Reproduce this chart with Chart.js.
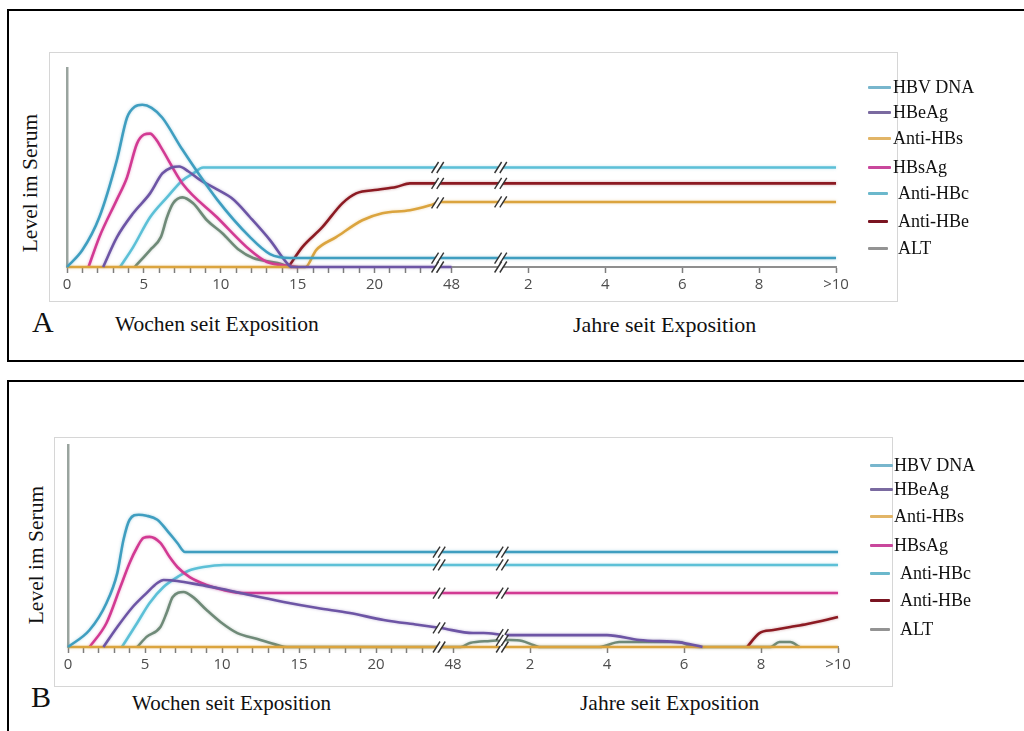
<!DOCTYPE html>
<html>
<head>
<meta charset="utf-8">
<script src="https://cdn.jsdelivr.net/npm/chart.js@4.4.0/dist/chart.umd.min.js"></script>
<style>
  body { margin: 0; background: #fff; width: 1024px; height: 731px; overflow: hidden; position: relative; font-family: "Liberation Serif", "Times New Roman", serif; }
  .frame { position: absolute; border: 2px solid #000; box-sizing: border-box; }
  .inner { position: absolute; border: 1px solid #d6d6d6; box-sizing: border-box; }
  canvas { position: absolute; }
  .txt { position: absolute; white-space: nowrap; color: #111; line-height: 1; }
  .ytitle { position: absolute; white-space: nowrap; color: #111; line-height: 1; font-size: 21.5px; transform: translate(-50%, -50%) rotate(-90deg); }
  .mark { position: absolute; height: 3px; border-radius: 1px; }
</style>
</head>
<body>
<div class="frame" style="left:7px;top:9px;width:1030px;height:353px"></div>
<div class="frame" style="left:7px;top:380px;width:1030px;height:400px"></div>
<div class="inner" style="left:49px;top:52px;width:849px;height:250px"></div>
<div class="inner" style="left:54px;top:437px;width:839px;height:250px"></div>
<canvas id="chartA" width="848" height="249" style="left:49px;top:52px"></canvas>
<canvas id="chartB" width="838" height="249" style="left:54px;top:437px"></canvas>
<div id="labels"></div>

<script>
// x = position on the broken axis: 0..25 are weeks, 25..50 stand for 48 wk, 2, 4, 6, 8, >10 years
const TICK_LABELS = ['0', '5', '10', '15', '20', '48', '2', '4', '6', '8', '>10'];
const BREAK_POS = [24.1, 28.2];
const SERIES = ['HBV DNA', 'HBeAg', 'Anti-HBs', 'HBsAg', 'Anti-HBc', 'Anti-HBe', 'ALT'];

// panel A - acute, resolved infection
const A_HBV_DNA = [[0,0],[1,8.5],[2.1,25],[3.25,54],[3.9,75],[4.4,80.5],[4.9,81.5],[5.5,80],[6.2,75],[7.5,59],[9.75,34],[11.9,15],[13.2,6.5],[14.5,4.5],[50,4.5]];
const A_HBEAG = [[2.35,0],[3.25,15],[4.3,27],[5.4,37],[6.2,47],[6.8,50],[7.3,50.5],[7.9,48],[8.6,44],[9.75,39],[10.8,34],[11.9,25],[13.2,13.5],[14.3,2],[14.6,0],[25,0]];
const A_ANTI_HBS = [[0,0],[15.5,0],[16.2,8.5],[17.5,15],[19.2,23.5],[20.5,27],[22.3,28.5],[23.6,31],[24.3,32.7],[50,32.7]];
const A_HBSAG = [[1.4,0],[2.1,15],[3.25,34],[3.9,45],[4.55,62],[5,66.5],[5.4,67],[5.8,64],[6.2,59],[7.5,42],[9.75,25],[11.9,8.5],[13,2.5],[14.5,0.5],[15,0]];
const A_ANTI_HBC = [[3.45,0],[4.3,10],[5.4,25],[6.5,35],[7.5,43.5],[8.2,47],[8.85,50],[50,50]];
const A_ANTI_HBE = [[14.4,0],[15.3,10],[16.6,20],[17.9,32],[18.8,37],[20.2,38.8],[21.4,40.2],[22.3,42],[50,42]];
const A_ALT = [[4.4,0],[5.4,8.5],[6.1,15],[6.5,25],[6.9,32],[7.5,35],[8.2,32],[9.1,23.5],[10.1,17],[11.2,8.5],[12.1,4.5],[13.7,2],[14.5,0]];

// panel B - chronic infection
const B_HBV_DNA = [[0,0],[1.4,8.4],[2.5,21.8],[3.2,36.6],[3.6,53],[4,63],[4.6,65.5],[5.1,65],[5.8,63],[6.4,58],[7.1,51.5],[7.6,47],[50,47]];
const B_HBEAG = [[2.3,0],[3.2,9.9],[4.2,19.8],[5.1,26.7],[5.8,31.7],[6.2,33.2],[7.1,32.7],[8.6,30.7],[9.7,29.2],[11.8,25.7],[14,22.3],[16.2,19.3],[18.3,16.8],[20.5,13.4],[22.7,11],[24.2,9.4],[26.3,6.9],[27,6.9],[28.5,5.9],[35,5.9],[37.1,3.5],[40,2],[41.2,0]];
const B_ANTI_HBS = [[0,0],[50,0]];
const B_HBSAG = [[1.4,0],[2.5,11.9],[3.4,29.7],[4,41.6],[4.5,49.5],[4.9,54],[5.3,54.5],[6,51.5],[6.6,44.5],[7.1,39.6],[7.9,34.6],[9,30.7],[10.1,28.2],[11.4,26.7],[50,26.7]];
const B_ANTI_HBC = [[3.5,0],[4.5,12],[5.3,21.8],[6.2,29.7],[7.1,34.6],[7.9,38],[8.8,39.6],[10.1,40.6],[50,40.6]];
const B_ANTI_HBE = [[44.1,0],[44.9,6.9],[45.8,8.4],[46.9,9.9],[48,11.4],[49,13],[50,14.9]];
const B_ALT = [[4.5,0],[5.1,5],[6,9.9],[6.4,16.8],[6.8,24.8],[7.5,27.2],[8.1,24.8],[9,18.3],[9.9,12.4],[11,6.9],[12.3,4],[13.6,1],[14.2,0],[25.5,0],[26.1,2],[27.4,3],[28.7,3.5],[29.5,3],[30.2,1],[30.6,0],[34.5,0],[35.8,2.5],[37.1,2.5],[39.7,2.5],[40.4,0.5],[41,0],[45.6,0],[46.2,2.5],[46.9,2.5],[47.5,0]];

const COLORS = {
  'HBV DNA': '#3f9ec0',
  'HBeAg': '#6d55a5',
  'Anti-HBs': '#dba43e',
  'HBsAg': '#d23a93',
  'Anti-HBc': '#5cc0d7',
  'Anti-HBe': '#8c1a22',
  'ALT': '#6f8a78'
};
const LEGEND_COLORS = {
  'HBV DNA': '#78b6cd', 'HBeAg': '#7a6aa0', 'Anti-HBs': '#e2b567', 'HBsAg': '#c9479c',
  'Anti-HBc': '#6bb8cc', 'Anti-HBe': '#7a1421', 'ALT': '#939393'
};

const toPts = arr => arr.map(([x, y]) => ({ x: x, y: y }));

// "//" marks where the time axis is broken
const breakPlugin = {
  id: 'axisBreaks',
  afterDatasetsDraw(chart) {
    const ctx = chart.ctx;
    const x = chart.scales.x, y = chart.scales.y;
    BREAK_POS.forEach(bx => {
      const px = x.getPixelForValue(bx);
      const ys = [y.getPixelForValue(0)];
      chart.data.datasets.forEach(ds => {
        const pts = ds.data;
        for (let i = 1; i < pts.length; i++) {
          const a = pts[i - 1], b = pts[i];
          if (a.x <= bx && bx <= b.x) {
            const v = a.y + (b.y - a.y) * (bx - a.x) / (b.x - a.x);
            ys.push(y.getPixelForValue(v));
            break;
          }
        }
      });
      const done = [];
      ys.forEach(py => {
        if (done.some(d => Math.abs(d - py) < 4)) return;
        done.push(py);
        ctx.save();
        ctx.strokeStyle = '#fff';
        ctx.lineWidth = 3.5;
        ctx.beginPath(); ctx.moveTo(px - 3.5, py + 5); ctx.lineTo(px + 3.5, py - 5); ctx.stroke();
        ctx.strokeStyle = '#333';
        ctx.lineWidth = 1.4;
        [-2.6, 2.6].forEach(o => {
          ctx.beginPath(); ctx.moveTo(px + o - 3.5, py + 5.5); ctx.lineTo(px + o + 3.5, py - 5.5); ctx.stroke();
        });
        ctx.restore();
      });
    });
  }
};

// soft halo like the blurry source lines
const glowPlugin = {
  id: 'glow',
  beforeDatasetDraw(chart, args) {
    const ds = chart.data.datasets[args.index];
    chart.ctx.save();
    chart.ctx.shadowColor = ds.borderColor + '66';
    chart.ctx.shadowBlur = 3;
  },
  afterDatasetDraw(chart) {
    chart.ctx.restore();
  }
};

function makeChart(id, seriesData, pad, bottomSpace) {
  const datasets = SERIES.map((name, i) => ({
    label: name,
    data: toPts(seriesData[i]),
    borderColor: COLORS[name],
    borderWidth: 2.6,
    pointRadius: 0,
    fill: false,
    cubicInterpolationMode: 'monotone',
    clip: 6
  }));
  return new Chart(document.getElementById(id), {
    type: 'line',
    data: { datasets: datasets },
    options: {
      responsive: false,
      animation: false,
      devicePixelRatio: 1,
      layout: { padding: pad },
      plugins: { legend: { display: false }, tooltip: { enabled: false } },
      scales: {
        x: {
          type: 'linear',
          min: 0,
          max: 50,
          afterFit: s => { s.height = bottomSpace; },
          border: { color: '#8f8f8f', width: 2 },
          grid: {
            drawOnChartArea: false,
            tickLength: 6,
            tickWidth: 1.5,
            tickColor: c => (c.tick && c.tick.value > 25 && c.tick.value % 5 !== 0) ? 'rgba(0,0,0,0)' : '#7d7d7d'
          },
          ticks: {
            stepSize: 1,
            autoSkip: false,
            maxRotation: 0,
            padding: 3,
            color: '#4d4d4d',
            font: { family: '"Open Sans", sans-serif', size: 15 },
            callback: v => (v % 5 === 0) ? TICK_LABELS[v / 5] : ''
          }
        },
        y: {
          min: 0,
          max: 100,
          afterFit: s => { s.width = 0; },
          border: { color: '#9aa49f', width: 2.5 },
          grid: { drawOnChartArea: false, drawTicks: false },
          ticks: { display: false }
        }
      }
    },
    plugins: [glowPlugin, breakPlugin]
  });
}

makeChart('chartA', [A_HBV_DNA, A_HBEAG, A_ANTI_HBS, A_HBSAG, A_ANTI_HBC, A_ANTI_HBE, A_ALT],
  { left: 18, right: 61, top: 16, bottom: 0 }, 34);
makeChart('chartB', [B_HBV_DNA, B_HBEAG, B_ANTI_HBS, B_HBSAG, B_ANTI_HBC, B_ANTI_HBE, B_ALT],
  { left: 14, right: 54, top: 8, bottom: 0 }, 39);

// surrounding text and the legends
const holder = document.getElementById('labels');
function addText(str, left, top, size, cls) {
  const d = document.createElement('div');
  d.className = cls || 'txt';
  d.textContent = str;
  d.style.left = left + 'px';
  d.style.top = top + 'px';
  if (size) d.style.fontSize = size + 'px';
  holder.appendChild(d);
}
addText('A', 32, 307, 30);
addText('B', 31, 682, 30);
addText('Wochen seit Exposition', 115, 314, 21.5);
addText('Jahre seit Exposition', 573, 314, 22);
addText('Wochen seit Exposition', 132, 693, 21);
addText('Jahre seit Exposition', 580, 693, 21.5);
addText('Level im Serum', 31, 183, null, 'ytitle');
addText('Level im Serum', 37, 555, null, 'ytitle');

const legendA = { rows: [87, 112, 138, 167, 193, 221, 248], textX: [893, 893, 893, 893, 898, 898, 898], markX: 868 };
const legendB = { rows: [465, 489, 516, 545, 573, 600, 629], textX: [894, 894, 894, 894, 900, 900, 900], markX: 870 };
[legendA, legendB].forEach(lg => {
  SERIES.forEach((name, i) => {
    const m = document.createElement('div');
    m.className = 'mark';
    m.style.left = lg.markX + 'px';
    m.style.top = (lg.rows[i] - 1.5) + 'px';
    m.style.width = (i < 4 ? 23 : 20) + 'px';
    m.style.background = LEGEND_COLORS[name];
    holder.appendChild(m);
    addText(name, lg.textX[i], lg.rows[i] - 9.2, 18);
  });
});
</script>
</body>
</html>
